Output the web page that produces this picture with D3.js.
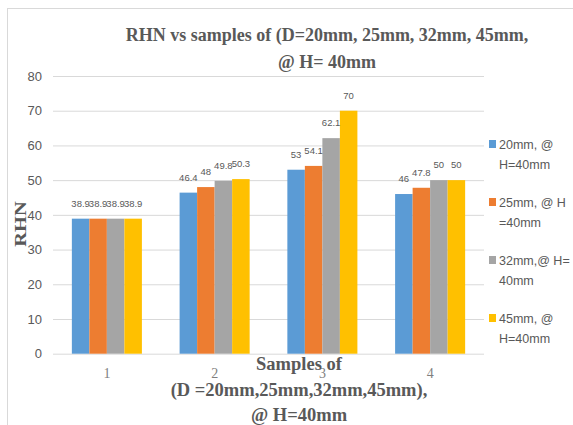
<!DOCTYPE html>
<html>
<head>
<meta charset="utf-8">
<script src="https://cdn.jsdelivr.net/npm/d3@7"></script>
<style>
  html, body { margin: 0; padding: 0; background: #fff; }
  svg { display: block; }
</style>
</head>
<body>
<svg id="chart" width="573" height="425"></svg>
<script>
const categories = ["1", "2", "3", "4"];
const seriesNames = ["20mm, @ H=40mm", "25mm, @ H =40mm", "32mm,@ H= 40mm", "45mm, @ H=40mm"];
const legendLines = [["20mm, @", "H=40mm"], ["25mm, @ H", "=40mm"], ["32mm,@ H=", "40mm"], ["45mm, @", "H=40mm"]];
const s20 = [38.9, 46.4, 53, 46];
const s25 = [38.9, 48, 54.1, 47.8];
const s32 = [38.9, 49.8, 62.1, 50];
const s45 = [38.9, 50.3, 70, 50];
const yTicks = [0, 10, 20, 30, 40, 50, 60, 70, 80];
const colors = ["#5b9bd5", "#ed7d31", "#a5a5a5", "#ffc000"];
const titleLines = ["RHN vs samples of (D=20mm, 25mm, 32mm, 45mm,", "@ H= 40mm"];
const xTitleLines = ["Samples of", "(D =20mm,25mm,32mm,45mm),", "@ H=40mm"];
const yTitle = "RHN";

const seriesValues = [s20, s25, s32, s45];
const svg = d3.select("#chart");

// chart frame
svg.append("rect").attr("x", 7.5).attr("y", 8.5).attr("width", 600).attr("height", 500)
  .attr("fill", "none").attr("stroke", "#d9d9d9").attr("stroke-width", 1);

const x0 = d3.scaleBand().domain(categories).range([53, 484]).paddingInner(0.35).paddingOuter(0.175);
const x1 = d3.scaleBand().domain(seriesNames).range([0, x0.bandwidth()]);
const y = d3.scaleLinear().domain([0, 80]).range([353.7, 76]);

// gridlines
const grid = d3.axisLeft(y).tickValues(yTicks).tickSize(-(484 - 53)).tickFormat("");
svg.append("g").attr("transform", "translate(53,0)").call(grid)
  .call(g => g.select(".domain").remove())
  .call(g => g.selectAll("line").attr("stroke", "#d9d9d9").attr("stroke-width", 1));

// y tick labels
const yAxis = d3.axisLeft(y).tickValues(yTicks).tickSize(0).tickPadding(11);
svg.append("g").attr("transform", "translate(53,0)").call(yAxis)
  .call(g => g.select(".domain").remove())
  .call(g => g.selectAll("text").attr("fill", "#595959").attr("font-family", "Liberation Sans, Arial, sans-serif").attr("font-size", "13px"));

// x tick labels
const xAxis = d3.axisBottom(x0).tickSize(0).tickPadding(14);
svg.append("g").attr("transform", "translate(0,353.7)").call(xAxis)
  .call(g => g.select(".domain").remove())
  .call(g => g.selectAll("text").attr("fill", "#7f7f7f").attr("font-family", "Liberation Serif, Times New Roman, serif").attr("font-size", "14px"));

// bars
const groups = svg.append("g").selectAll("g").data(categories).join("g")
  .attr("transform", d => `translate(${x0(d)},0)`);
const barData = (c, i) => seriesNames.map((s, k) => ({ s, k, v: seriesValues[k][i] }));
groups.selectAll("rect").data((c, i) => barData(c, i)).join("rect")
  .attr("x", d => x1(d.s)).attr("width", x1.bandwidth())
  .attr("y", d => y(d.v)).attr("height", d => y(0) - y(d.v))
  .attr("fill", d => colors[d.k]);

// data labels
groups.selectAll("text").data((c, i) => barData(c, i)).join("text")
  .attr("x", d => x1(d.s) + x1.bandwidth() / 2).attr("y", d => y(d.v) - 12)
  .attr("text-anchor", "middle").attr("fill", "#595959")
  .attr("font-family", "Liberation Sans, Arial, sans-serif").attr("font-size", "9.5px")
  .text(d => d.v);

// title
svg.append("text").attr("text-anchor", "middle").attr("fill", "#595959")
  .attr("font-family", "Liberation Serif, Times New Roman, serif").attr("font-weight", "bold").attr("font-size", "18px")
  .selectAll("tspan").data(titleLines).join("tspan")
  .attr("x", 327).attr("y", (d, i) => 41 + i * 27).text(d => d);

// x axis title
svg.append("text").attr("text-anchor", "middle").attr("fill", "#595959")
  .attr("font-family", "Liberation Serif, Times New Roman, serif").attr("font-weight", "bold").attr("font-size", "18.5px")
  .selectAll("tspan").data(xTitleLines).join("tspan")
  .attr("x", 299).attr("y", (d, i) => 370 + i * 25.5).text(d => d);

// y axis title
svg.append("text").attr("transform", "translate(26,224) rotate(-90) scale(1.2,1)")
  .attr("text-anchor", "middle").attr("fill", "#595959")
  .attr("font-family", "Liberation Serif, Times New Roman, serif").attr("font-weight", "bold").attr("font-size", "17px")
  .text(yTitle);

// legend
const leg = svg.append("g").selectAll("g").data(seriesNames).join("g")
  .attr("transform", (d, i) => `translate(489,${144 + i * 58})`);
leg.append("rect").attr("x", 0).attr("y", -4).attr("width", 7).attr("height", 8)
  .attr("fill", (d, i) => colors[i]);
leg.append("text").attr("fill", "#595959")
  .attr("font-family", "Liberation Sans, Arial, sans-serif").attr("font-size", "12.5px")
  .selectAll("tspan").data((d, i) => legendLines[i]).join("tspan")
  .attr("x", 10).attr("y", (d, j) => 5 + j * 20).text(d => d);
</script>
</body>
</html>
